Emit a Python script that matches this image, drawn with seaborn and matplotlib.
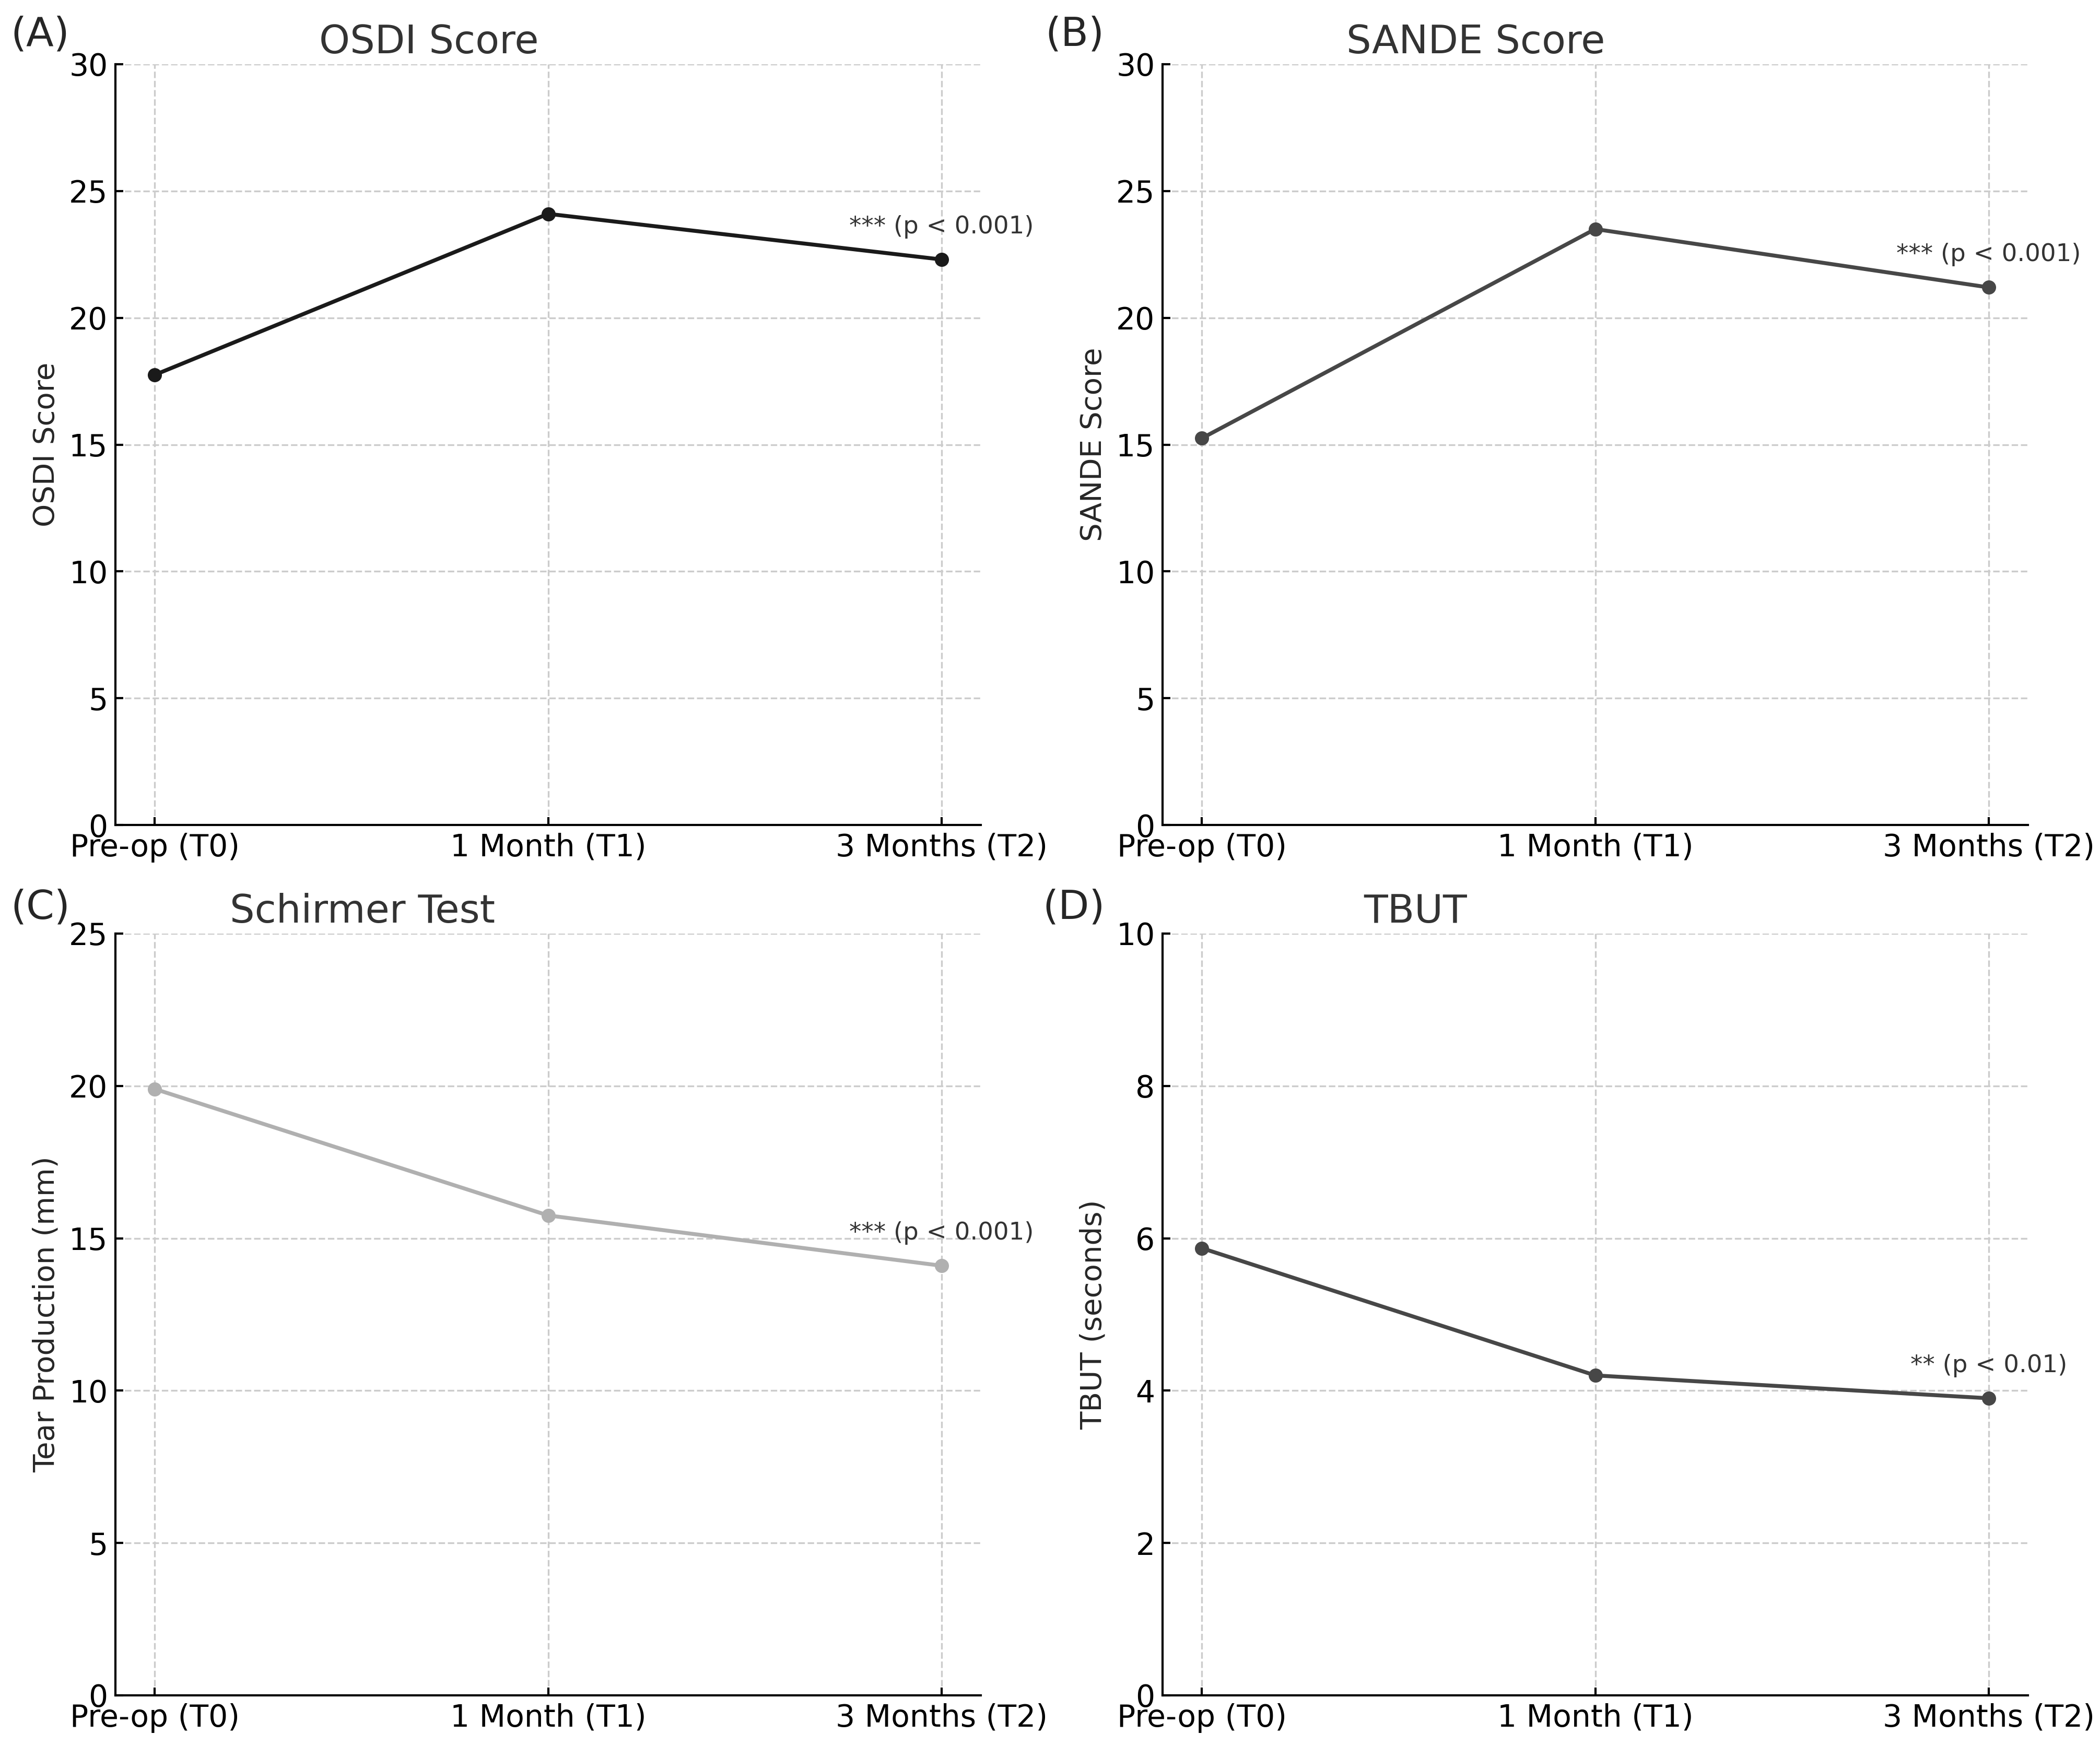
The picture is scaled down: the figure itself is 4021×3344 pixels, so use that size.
import matplotlib
matplotlib.use("Agg")
import matplotlib.pyplot as plt
import numpy as np
import pandas as pd
import seaborn as sns

# time points
timepoints = ["Pre-op (T0)", "1 Month (T1)", "3 Months (T2)"]

# mean values
osdi = [17.75, 24.1, 22.3]
sande = [15.25, 23.5, 21.2]
schirmer = [19.9, 15.75, 14.1]
tbut = [5.87, 4.2, 3.9]

# p-value labels
osdi_sig = "*** (p < 0.001)"
sande_sig = "*** (p < 0.001)"
schirmer_sig = "*** (p < 0.001)"
tbut_sig = "** (p < 0.01)"

sns.set_style("ticks")
plt.rcParams['font.family'] = ['DejaVu Sans']

fig = plt.figure(figsize=(4021 / 300, 3344 / 300), dpi=300)

W, H = 4021, 3344
def box(l, r, t, b):
    return [l / W, 1 - b / H, (r - l) / W, (b - t) / H]

ax_a = fig.add_axes(box(221, 1878, 123, 1580))
ax_b = fig.add_axes(box(2226, 3883, 123, 1580))
ax_c = fig.add_axes(box(221, 1878, 1788, 3247))
ax_d = fig.add_axes(box(2226, 3883, 1788, 3247))

panels = [
    (ax_a, osdi, "OSDI Score", "OSDI Score", "#1a1a1a", 30, 5, osdi_sig, 0.362, "(A)"),
    (ax_b, sande, "SANDE Score", "SANDE Score", "#474747", 30, 5, sande_sig, 0.362, "(B)"),
    (ax_c, schirmer, "Schirmer Test", "Tear Production (mm)", "#b0b0b0", 25, 5, schirmer_sig, 0.2856, "(C)"),
    (ax_d, tbut, "TBUT", "TBUT (seconds)", "#474747", 10, 2, tbut_sig, 0.292, "(D)"),
]

for ax, vals, title, ylab, col, ymax, step, sig, tx, letter in panels:
    df = pd.DataFrame({"time": timepoints, "value": vals})
    sns.lineplot(data=df, x="time", y="value", ax=ax, sort=False, color=col,
                 linewidth=1.8, marker="o", markersize=6.5, markeredgewidth=0)
    ax.set_ylim(0, ymax)
    ax.set_yticks(np.arange(0, ymax + 1, step))
    ax.set_xlim(-0.1, 2.1)
    ax.grid(True, linestyle="--", linewidth=0.8, color="#cccccc")
    ax.set_axisbelow(True)
    sns.despine(ax=ax)
    for s in ["left", "bottom"]:
        ax.spines[s].set_linewidth(1.0)
        ax.spines[s].set_color("black")
    ax.tick_params(direction="in", labelsize=14, width=1.0, colors="black")
    ax.set_xlabel("")
    ax.set_ylabel(ylab, fontsize=13.5)
    ax.set_title(title, fontsize=18, x=tx, pad=5, color="#333333")
    ax.annotate(sig, (2, vals[2]), xytext=(0, 15), textcoords="offset points",
                ha="center", va="center", fontsize=11.2, color="#333333")

fig.text(20 / W, 1 - 67 / H, "(A)", fontsize=18.5, va="center", ha="left")
fig.text(2001 / W, 1 - 67 / H, "(B)", fontsize=18.5, va="center", ha="left")
fig.text(20 / W, 1 - 1739 / H, "(C)", fontsize=18.5, va="center", ha="left")
fig.text(1996 / W, 1 - 1739 / H, "(D)", fontsize=18.5, va="center", ha="left")

fig.savefig("out.png", dpi=300)
